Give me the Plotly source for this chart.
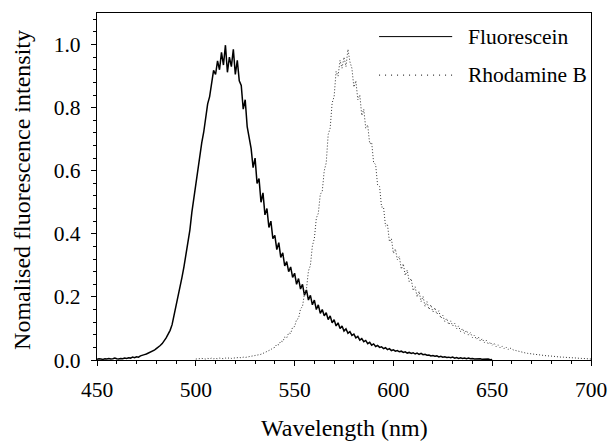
import plotly.graph_objects as go

# ---------------- data ----------------
fluo_start = 450
fluorescein = [
    0.002, 0.004, 0.003, 0.002, 0.004, 0.003, 0.005, 0.003, 0.004, 0.006,
    0.004, 0.003, 0.005, 0.004, 0.006, 0.005, 0.007, 0.006, 0.009, 0.007,
    0.010, 0.009, 0.013, 0.014, 0.017, 0.019, 0.022, 0.024, 0.029, 0.031,
    0.036, 0.040, 0.046, 0.052, 0.060, 0.070, 0.082, 0.094, 0.112, 0.140,
    0.175, 0.205, 0.232, 0.262, 0.295, 0.330, 0.372, 0.412, 0.468, 0.515,
    0.560, 0.600, 0.642, 0.688, 0.722, 0.768, 0.812, 0.835, 0.885, 0.918,
    0.905, 0.948, 0.920, 0.975, 0.935, 0.998, 0.912, 0.960, 0.930, 0.985,
    0.905, 0.950, 0.885, 0.870, 0.795, 0.825, 0.740, 0.700, 0.670, 0.610,
    0.640, 0.560, 0.575, 0.500, 0.530, 0.460, 0.480, 0.420, 0.440, 0.385,
    0.395, 0.350, 0.372, 0.325, 0.340, 0.298, 0.312, 0.280, 0.295, 0.262,
    0.275, 0.240, 0.258, 0.225, 0.240, 0.205, 0.222, 0.190, 0.205, 0.175,
    0.190, 0.160, 0.175, 0.148, 0.160, 0.140, 0.150, 0.128, 0.140, 0.118,
    0.128, 0.108, 0.118, 0.100, 0.108, 0.092, 0.099, 0.085, 0.090, 0.078,
    0.082, 0.070, 0.075, 0.063, 0.068, 0.058, 0.062, 0.052, 0.056, 0.047,
    0.051, 0.043, 0.046, 0.040, 0.042, 0.036, 0.039, 0.033, 0.036, 0.030,
    0.032, 0.028, 0.030, 0.026, 0.028, 0.024, 0.026, 0.022, 0.024, 0.021,
    0.023, 0.019, 0.022, 0.018, 0.021, 0.017, 0.018, 0.015, 0.016, 0.013,
    0.014, 0.012, 0.013, 0.010, 0.012, 0.009, 0.010, 0.008, 0.009, 0.007,
    0.009, 0.006, 0.008, 0.005, 0.007, 0.005, 0.006, 0.004, 0.006, 0.004,
    0.005, 0.003, 0.004, 0.003, 0.004, 0.002, 0.003, 0.002, 0.003, 0.001,
    0.002,
]

rhod_start = 500
rhodamine_b = [
    0.003, 0.004, 0.003, 0.005, 0.004, 0.003, 0.005, 0.004, 0.006, 0.004,
    0.005, 0.004, 0.006, 0.005, 0.004, 0.006, 0.005, 0.007, 0.005, 0.006,
    0.007, 0.006, 0.008, 0.007, 0.009, 0.008, 0.010, 0.011, 0.012, 0.013,
    0.014, 0.015, 0.017, 0.018, 0.021, 0.024, 0.026, 0.030, 0.033, 0.038,
    0.040, 0.050, 0.048, 0.060, 0.058, 0.073, 0.070, 0.086, 0.084, 0.104,
    0.106, 0.128, 0.132, 0.162, 0.170, 0.210, 0.225, 0.282, 0.300, 0.362,
    0.385, 0.450, 0.465, 0.525, 0.535, 0.600, 0.625, 0.715, 0.735, 0.815,
    0.835, 0.915, 0.900, 0.950, 0.925, 0.960, 0.930, 0.985, 0.945, 0.925,
    0.865, 0.885, 0.825, 0.840, 0.775, 0.795, 0.735, 0.745, 0.685, 0.690,
    0.625, 0.620, 0.555, 0.550, 0.485, 0.485, 0.425, 0.430, 0.375, 0.385,
    0.338, 0.352, 0.318, 0.328, 0.288, 0.305, 0.268, 0.285, 0.248, 0.258,
    0.220, 0.232, 0.200, 0.218, 0.185, 0.202, 0.170, 0.185, 0.160, 0.175,
    0.152, 0.166, 0.145, 0.156, 0.132, 0.142, 0.122, 0.132, 0.112, 0.124,
    0.108, 0.117, 0.099, 0.108, 0.090, 0.100, 0.084, 0.094, 0.079, 0.087,
    0.071, 0.079, 0.065, 0.073, 0.060, 0.068, 0.055, 0.063, 0.050, 0.057,
    0.046, 0.053, 0.042, 0.048, 0.039, 0.044, 0.036, 0.041, 0.033, 0.038,
    0.033, 0.031, 0.030, 0.028, 0.026, 0.024, 0.023, 0.022, 0.021, 0.020,
    0.019, 0.018, 0.017, 0.016, 0.016, 0.015, 0.014, 0.014, 0.013, 0.013,
    0.012, 0.011, 0.011, 0.010, 0.010, 0.009, 0.009, 0.008, 0.008, 0.008,
    0.007, 0.007, 0.006, 0.006, 0.005, 0.005, 0.005, 0.004, 0.004, 0.003,
    0.003,
]

series_names = ["Fluorescein", "Rhodamine B"]
x_title = "Wavelength (nm)"
y_title = "Nomalised fluorescence intensity"
x_ticks = [450, 500, 550, 600, 650, 700]
y_ticks = [0.0, 0.2, 0.4, 0.6, 0.8, 1.0]

fluo_x = [fluo_start + i for i in range(len(fluorescein))]
rhod_x = [rhod_start + i for i in range(len(rhodamine_b))]

# ---------------- figure ----------------
FONT = "Liberation Serif, Times New Roman, DejaVu Serif, serif"

fig = go.Figure()
fig.add_trace(go.Scatter(
    x=fluo_x, y=fluorescein, mode="lines", name=series_names[0],
    line=dict(color="#000000", width=1.5), showlegend=False,
))
fig.add_trace(go.Scatter(
    x=rhod_x, y=rhodamine_b, mode="lines", name=series_names[1],
    line=dict(color="#333333", width=1, dash="1px,2px"), showlegend=False,
))

# manual legend (long line samples, like the reference)
legend_rows = [(0.932, "solid", series_names[0]), (0.821, "1px,5px", series_names[1])]
for yp, dash, label in legend_rows:
    fig.add_shape(type="line", xref="paper", yref="paper",
                  x0=0.571, x1=0.719, y0=yp, y1=yp,
                  line=dict(color="#000000", width=1, dash=dash))
    fig.add_annotation(xref="paper", yref="paper", x=0.747, y=yp,
                       text=label, showarrow=False, xanchor="left",
                       yanchor="middle",
                       font=dict(family=FONT, size=21.5, color="#000000"))

# axis titles as annotations for exact placement
fig.add_annotation(xref="paper", yref="paper", x=0.5, y=-0.197,
                   text=x_title, showarrow=False, xanchor="center", yanchor="middle",
                   font=dict(family=FONT, size=24, color="#000000"))
fig.add_annotation(xref="paper", yref="paper", x=-0.152, y=0.49,
                   text=y_title, showarrow=False, textangle=-90,
                   xanchor="center", yanchor="middle",
                   font=dict(family=FONT, size=24, color="#000000"))

axis_common = dict(
    showline=True, linecolor="#000000", linewidth=1.2, mirror=True,
    ticks="outside", tickcolor="#000000", ticklen=5, tickwidth=1,
    showgrid=False, zeroline=False, automargin=False,
    tickfont=dict(family=FONT, size=21.5, color="#000000"),
)

fig.update_xaxes(
    range=[450, 700], tickvals=x_ticks, ticktext=[str(v) for v in x_ticks],
    minor=dict(dtick=10, ticks="outside", ticklen=3, tickcolor="#000000", showgrid=False),
    ticklabelstandoff=5,
    **axis_common,
)
fig.update_yaxes(
    range=[0, 1.1], tickvals=y_ticks, ticktext=[f"{v:.1f}" for v in y_ticks],
    minor=dict(dtick=0.04, ticks="outside", ticklen=3, tickcolor="#000000", showgrid=False),
    ticklabelstandoff=6,
    **axis_common,
)

fig.update_layout(
    width=609, height=443, autosize=False,
    margin=dict(l=97, r=18, t=13, b=83),
    paper_bgcolor="#ffffff", plot_bgcolor="#ffffff",
    showlegend=False,
)

fig.write_html("out.html", config={"displayModeBar": False},
               post_script="document.body.style.margin='0';")
